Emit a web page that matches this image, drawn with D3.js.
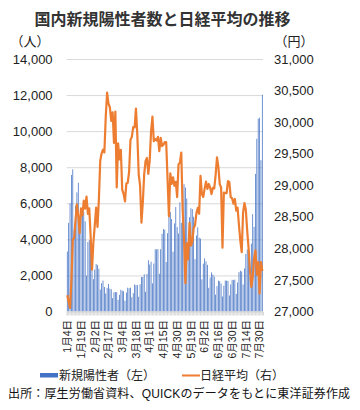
<!DOCTYPE html>
<html><head><meta charset="utf-8">
<script src="https://cdn.jsdelivr.net/npm/d3@7"></script>
<style>
body{margin:0;background:#fff;}
text{font-family:"Liberation Sans","Noto Sans CJK JP",sans-serif;}
</style></head>
<body><svg id="c" width="360" height="410"></svg>
<script>
// categories: trading days (month/day)
const dates = [
"1/4","1/5","1/6","1/7","1/8","1/12","1/13","1/14","1/15","1/18","1/19","1/20","1/21","1/22","1/25","1/26","1/27","1/28","1/29",
"2/1","2/2","2/3","2/4","2/5","2/8","2/9","2/10","2/12","2/15","2/16","2/17","2/18","2/19","2/22","2/24","2/25","2/26",
"3/1","3/2","3/3","3/4","3/5","3/8","3/9","3/10","3/11","3/12","3/15","3/16","3/17","3/18","3/19","3/22","3/23","3/24","3/25","3/26","3/29","3/30","3/31",
"4/1","4/2","4/5","4/6","4/7","4/8","4/9","4/12","4/13","4/14","4/15","4/16","4/19","4/20","4/21","4/22","4/23","4/26","4/27","4/28","4/30",
"5/6","5/7","5/10","5/11","5/12","5/13","5/14","5/17","5/18","5/19","5/20","5/21","5/24","5/25","5/26","5/27","5/28","5/31",
"6/1","6/2","6/3","6/4","6/7","6/8","6/9","6/10","6/11","6/14","6/15","6/16","6/17","6/18","6/21","6/22","6/23","6/24","6/25","6/28","6/29","6/30",
"7/1","7/2","7/5","7/6","7/7","7/8","7/9","7/12","7/13","7/14","7/15","7/16","7/19","7/20","7/21","7/26","7/27","7/28","7/29","7/30",
"8/2","8/3"];
// new positive cases (people)
const cases = [
3325,4915,6004,7570,7882,4536,5875,6605,7133,4925,5320,5651,5532,4999,1990,3853,3960,4128,3538,
1792,2324,2631,2576,2372,1215,1568,1713,1360,1000,1308,1527,1269,1234,739,1075,1072,1076,
646,923,1205,1158,1123,600,1054,1322,1291,1322,790,1017,1499,1464,1472,816,1512,1915,1915,2065,1092,2084,2843,
2605,2760,1561,2660,3451,3446,3460,2093,3455,4314,4570,4532,2742,4339,5288,5513,5129,3316,4884,5791,4681,
4323,6054,4915,6241,7057,6875,6265,3680,5227,5722,5676,5256,2904,4218,4670,4091,4040,1783,
2652,2948,2782,2586,1313,1884,2170,2049,1939,936,1405,1709,1681,1550,832,1428,1719,1708,1703,889,1501,1759,
1741,1772,977,1610,2186,2262,2219,1495,2386,3192,3433,3420,1904,3758,5397,4691,7629,9576,10693,10744,
8392,12017];
// Nikkei average close (yen)
const nikkei = [
27258,27158,27056,27490,28139,28164,28457,28698,28519,28242,28633,28523,28757,28631,28822,28546,28635,28197,27663,
28092,28362,28646,28341,28779,29388,29506,29563,29520,30084,30468,30292,30236,30018,30156,29672,30168,28966,
29664,29408,29559,28930,28864,28744,29028,29036,29212,29718,29767,29922,29915,30216,29792,29174,28996,28406,28730,29177,29385,29433,29179,
29389,29854,30089,29697,29731,29709,29768,29539,29752,29621,29643,29683,29685,29101,28508,29189,29021,29126,28992,29054,28813,
29331,29358,29519,28609,28148,27448,28084,27825,28406,28045,28099,28318,28365,28554,28643,28550,29149,28860,
28815,28946,29058,28942,29020,28964,28861,28959,28949,29162,29441,29292,29018,28964,28010,28885,28874,28876,29066,29049,28812,28792,
28707,28783,28599,28644,28366,28118,27940,28570,28719,28609,28279,28003,27652,27389,27548,27834,27970,27582,27782,27284,
27781,27642];
const leftTicks = [0,2000,4000,6000,8000,10000,12000,14000];
const rightTicks = [27000,27500,28000,28500,29000,29500,30000,30500,31000];
const labelEvery = 10;
const title = "国内新規陽性者数と日経平均の推移";
const seriesNames = ["新規陽性者（左）","日経平均（右）"];
const source = "出所：厚生労働省資料、QUICKのデータをもとに東洋証券作成";

const svg = d3.select("#c");
const L = 66.6, R = 263, T = 59, B = 311.5;
const x = d3.scaleBand().domain(dates).range([L, R]).padding(0);
const yL = d3.scaleLinear().domain([0,14000]).range([B, T]);
const yR = d3.scaleLinear().domain([27000,31000]).range([B, T]);
const blue = "#4472C4", orange = "#ED7D31";

// gridlines
svg.append("g").attr("transform",`translate(${L},0)`)
  .call(d3.axisLeft(yL).tickValues(leftTicks).tickSize(-(R-L)).tickFormat(""))
  .call(g=>{g.select(".domain").remove(); g.selectAll("line").attr("stroke","#d9d9d9").attr("stroke-width",1);});

// bars
const bw = x.bandwidth();
svg.append("g").selectAll("rect").data(cases).join("rect")
  .attr("x",(d,i)=>x(dates[i])+bw*0.22)
  .attr("width",bw*0.56)
  .attr("y",d=>yL(d))
  .attr("height",d=>B-yL(d))
  .attr("fill",blue);

// x axis ticks (every category)
svg.append("g").attr("transform",`translate(0,${B})`)
  .call(d3.axisBottom(x).tickSize(4).tickFormat(""))
  .call(g=>{g.select(".domain").attr("stroke","#d9d9d9"); g.selectAll(".tick line").attr("stroke","#d9d9d9");});

// x labels
const fmtDate = s => { const [m,d] = s.split("/"); return `${m}月${d}日`; };
svg.append("g").attr("transform",`translate(0,${B})`)
  .call(d3.axisBottom(x).tickValues(dates.filter((d,i)=>i%labelEvery===0 && i<=140)).tickSize(0).tickFormat(fmtDate))
  .call(g=>{g.select(".domain").remove();
    g.selectAll("text").attr("transform","rotate(-90)").attr("x",-8.5).attr("y",0).attr("dy","0.36em")
     .attr("text-anchor","end").attr("font-size","10.5px").attr("fill","#222").attr("font-family",null);});

// line
const line = d3.line().x((d,i)=>x(dates[i])+bw/2).y(d=>yR(d));
svg.append("path").datum(nikkei).attr("d",line).attr("fill","none")
  .attr("stroke",orange).attr("stroke-width",2.2).attr("stroke-linejoin","round");

// y axes
svg.append("g").attr("transform",`translate(${L},0)`)
  .call(d3.axisLeft(yL).tickValues(leftTicks).tickSize(0).tickPadding(14).tickFormat(d3.format(",")))
  .call(g=>{g.select(".domain").remove(); g.selectAll("text").attr("font-size","13px").attr("fill","#222").attr("font-family",null);});
svg.append("g").attr("transform",`translate(${R},0)`)
  .call(d3.axisRight(yR).tickValues(rightTicks).tickSize(0).tickPadding(11).tickFormat(d3.format(",")))
  .call(g=>{g.select(".domain").remove(); g.selectAll("text").attr("font-size","13px").attr("fill","#222").attr("font-family",null);});

// texts
svg.append("text").attr("x",162.5).attr("y",24.5).attr("text-anchor","middle")
  .attr("font-size","16px").attr("font-weight","bold").attr("fill","#333").text(title);
svg.append("text").attr("x",30).attr("y",45.5).attr("text-anchor","middle").attr("font-size","13px").attr("fill","#222").text("（人）");
svg.append("text").attr("x",294).attr("y",45.5).attr("text-anchor","middle").attr("font-size","13px").attr("fill","#222").text("（円）");

// legend
svg.append("rect").attr("x",40).attr("y",373).attr("width",18).attr("height",4.5).attr("fill",blue);
svg.append("text").attr("x",59).attr("y",380).attr("font-size","12px").attr("fill","#222").text(seriesNames[0]);
svg.append("line").attr("x1",182).attr("x2",200).attr("y1",375.5).attr("y2",375.5).attr("stroke",orange).attr("stroke-width",2);
svg.append("text").attr("x",200).attr("y",380).attr("font-size","12px").attr("fill","#222").text(seriesNames[1]);
svg.append("text").attr("x",8).attr("y",398).attr("font-size","12px").attr("fill","#111").attr("letter-spacing","0.15px").text(source);
</script></body></html>
